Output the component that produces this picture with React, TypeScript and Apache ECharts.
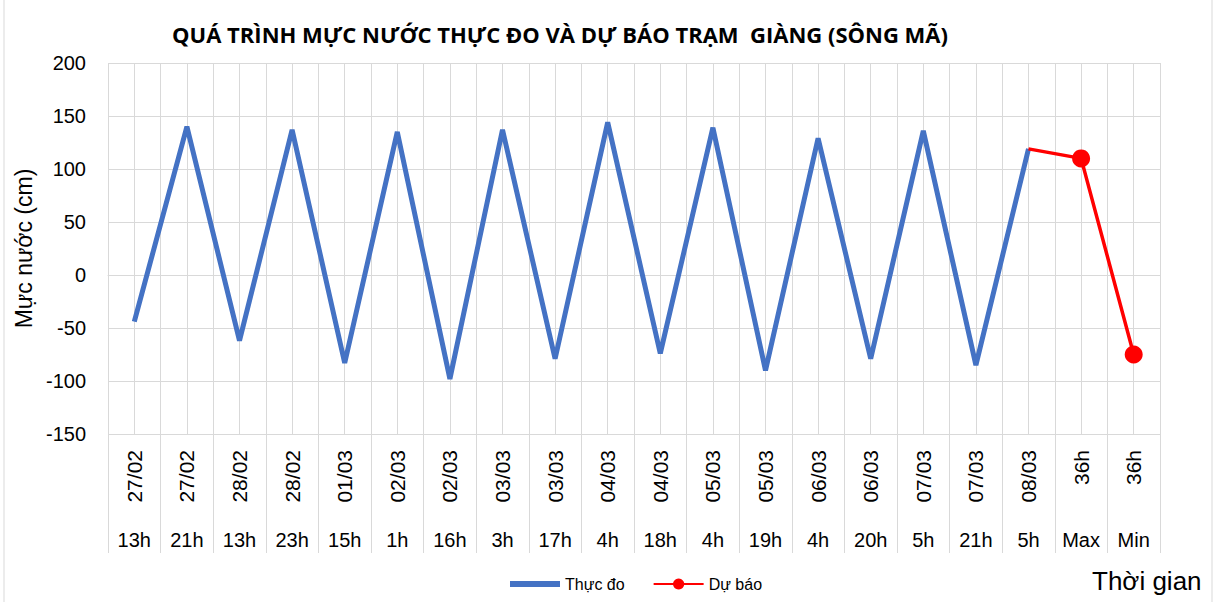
import React, { useEffect, useRef } from "react";
import * as echarts from "echarts";

const dates = ["27/02","27/02","28/02","28/02","01/03","02/03","02/03","03/03","03/03","04/03","04/03","05/03","05/03","06/03","06/03","07/03","07/03","08/03","36h","36h"];
const hours = ["13h","21h","13h","23h","15h","1h","16h","3h","17h","4h","18h","4h","19h","4h","20h","5h","21h","5h","Max","Min"];
const observed: (number | null)[] = [-44,140,-62,137,-83,135,-98,137,-79,144,-74,139,-90,129,-79,136,-85,119,null,null];
const forecast: (number | null)[] = [null,null,null,null,null,null,null,null,null,null,null,null,null,null,null,null,null,119,110,-75];
const yTicks = { min: -150, max: 200, interval: 50 };

export default function App() {
  const ref = useRef<HTMLDivElement>(null);
  useEffect(() => {
    document.body.style.margin = "0";
    const chart = echarts.init(ref.current!, undefined, { renderer: "svg" });
    const font = "'Liberation Sans', Arial, sans-serif";
    const grid = "#d9d9d9";
    const halfCats = new Array(dates.length * 2).fill("");
    chart.setOption({
      animation: false,
      backgroundColor: "#fff",
      title: {
        text: "QUÁ TRÌNH MỰC NƯỚC THỰC ĐO VÀ DỰ BÁO TRẠM  GIÀNG (SÔNG MÃ)",
        left: 555,
        textAlign: "center",
        top: 18,
        textStyle: { fontFamily: "'Open Sans', sans-serif", fontSize: 22, fontWeight: "bold", color: "#000" },
      },
      grid: { left: 108, right: 57, top: 63, bottom: 168 },
      legend: {
        left: 505,
        top: 571,
        itemWidth: 50,
        itemHeight: 14,
        itemGap: 28,
        textStyle: { fontFamily: font, fontSize: 16, color: "#000" },
        data: [
          { name: "Thực đo", icon: "path://M0 0H50V6H0Z" },
          { name: "Dự báo" },
        ],
      },
      xAxis: [
        {
          type: "category",
          data: dates,
          position: "bottom",
          boundaryGap: true,
          axisLine: { show: true, lineStyle: { color: grid, width: 1 } },
          axisTick: { show: true, interval: 0, length: 119, alignWithLabel: false, lineStyle: { color: grid, width: 1 } },
          axisLabel: { interval: 0, rotate: 90, margin: 16, fontFamily: font, fontSize: 21, color: "#000" },
          splitLine: { show: false },
        },
        {
          type: "category",
          data: hours,
          position: "bottom",
          boundaryGap: true,
          axisLine: { show: false },
          axisTick: { show: false },
          axisLabel: { interval: 0, margin: 96, fontFamily: font, fontSize: 20, color: "#000" },
          splitLine: { show: false },
        },
        {
          type: "category",
          data: halfCats,
          position: "bottom",
          boundaryGap: true,
          axisLine: { show: false },
          axisTick: { show: true, interval: 1, length: 119, lineStyle: { color: grid, width: 1 } },
          axisLabel: { show: false },
          splitLine: { show: true, interval: 0, lineStyle: { color: grid, width: 1 } },
        },
      ],
      yAxis: {
        type: "value",
        min: yTicks.min,
        max: yTicks.max,
        interval: yTicks.interval,
        name: "Mực nước (cm)",
        nameLocation: "middle",
        nameGap: 70,
        nameTextStyle: { fontFamily: font, fontSize: 23, color: "#000" },
        axisLine: { show: false },
        axisTick: { show: false },
        axisLabel: { margin: 22, fontFamily: font, fontSize: 20, color: "#000" },
        splitLine: { show: true, lineStyle: { color: grid, width: 1 } },
      },
      series: [
        {
          name: "Thực đo",
          type: "line",
          xAxisIndex: 0,
          data: observed,
          symbol: "none",
          lineStyle: { color: "#4472C4", width: 5 },
          itemStyle: { color: "#4472C4" },
          z: 2,
        },
        {
          name: "Dự báo",
          type: "line",
          xAxisIndex: 0,
          data: forecast.map((v, i) => (i === 17 ? { value: v, symbol: "none" } : v)),
          symbol: "circle",
          symbolSize: 18,
          lineStyle: { color: "#FF0000", width: 3.5 },
          itemStyle: { color: "#FF0000" },
          z: 3,
        },
      ],
      graphic: [
        {
          type: "text",
          left: 1092,
          top: 568,
          style: { text: "Thời gian", fontFamily: font, fontSize: 26, fill: "#000" },
        },
        {
          type: "rect",
          shape: { x: 4, y: -2, width: 1208, height: 606 },
          style: { fill: "none", stroke: grid, lineWidth: 1 },
          silent: true,
        },
      ],
    });
    return () => chart.dispose();
  }, []);
  return <div ref={ref} style={{ width: 1217, height: 602 }} />;
}
